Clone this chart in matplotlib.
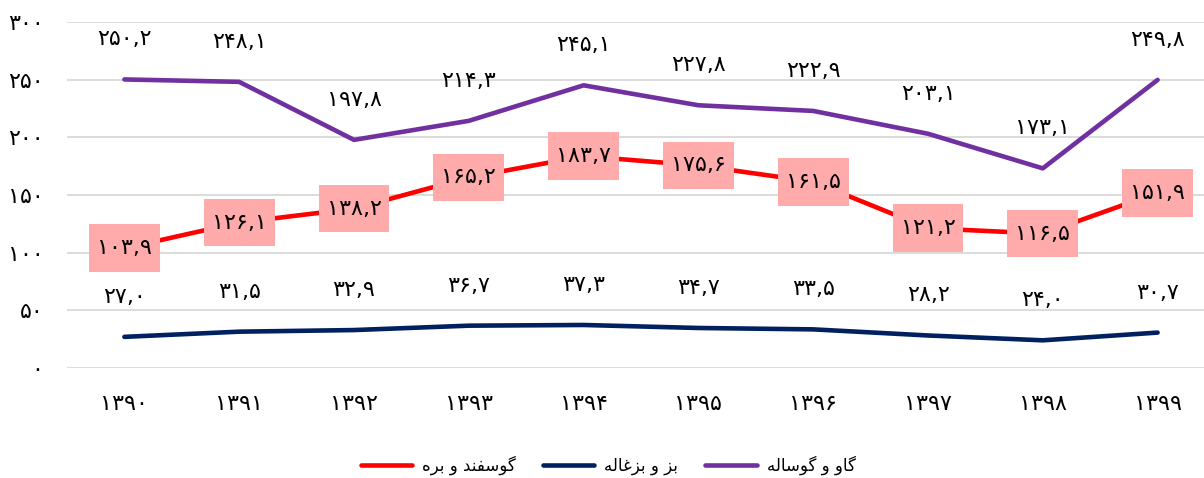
#Livestock slaughter weights 1390-1399 (three series, Persian labels)

import matplotlib
matplotlib.use('Agg')
import matplotlib.pyplot as plt
from matplotlib.path import Path
import numpy as np

years = [1390, 1391, 1392, 1393, 1394, 1395, 1396, 1397, 1398, 1399]
sheep = [103.9, 126.1, 138.2, 165.2, 183.7, 175.6, 161.5, 121.2, 116.5, 151.9]
goat = [27.0, 31.5, 32.9, 36.7, 37.3, 34.7, 33.5, 28.2, 24.0, 30.7]
cattle = [250.2, 248.1, 197.8, 214.3, 245.1, 227.8, 222.9, 203.1, 173.1, 249.8]
yticks = [0, 50, 100, 150, 200, 250, 300]

# series names, already shaped (presentation forms) and reversed for LTR drawing
name_sheep = '\uFB94\uFEEE\uFEB3\uFED4\uFEE8\uFEAA \uFEED \uFE91\uFEAE\uFEE9'[::-1]
name_goat = '\uFE91\uFEB0 \uFEED \uFE91\uFEB0\uFECF\uFE8E\uFEDF\uFEEA'[::-1]
name_cattle = '\uFB94\uFE8E\uFEED \uFEED \uFB94\uFEEE\uFEB3\uFE8E\uFEDF\uFEEA'[::-1]

FA = str.maketrans('0123456789.', '۰۱۲۳۴۵۶۷۸۹,')
def fa(x):
    return str(x).translate(FA)

#box with more room above/below than at the sides
def label_box(x0, y0, width, height, mutation_size):
    px = 0.36 * mutation_size
    py = 0.62 * mutation_size
    x1, y1 = x0 + width + px, y0 + height + py
    x0, y0 = x0 - px, y0 - py
    return Path([(x0, y0), (x1, y0), (x1, y1), (x0, y1), (x0, y0)], closed=True)

plt.rcParams['font.family'] = ['DejaVu Sans']

fig = plt.figure(figsize=(12.04, 4.78), dpi=100)
ax = fig.add_axes([67/1204, 1 - 368/478, 1148/1204, 346/478])

x = np.arange(len(years))
ax.plot(x, sheep, color='#FF0000', lw=3.3, label=name_sheep, solid_capstyle='round', zorder=3)
ax.plot(x, goat, color='#002060', lw=3.3, label=name_goat, solid_capstyle='round', zorder=3)
ax.plot(x, cattle, color='#7030A0', lw=3.3, label=name_cattle, solid_capstyle='round', zorder=3)

for i in range(len(x)):
    ax.annotate(fa('%.1f' % cattle[i]), (x[i], cattle[i]), xytext=(0, 40),
                textcoords='offset pixels', ha='center', va='center', fontsize=16)
    ax.annotate(fa('%.1f' % goat[i]), (x[i], goat[i]), xytext=(0, 40),
                textcoords='offset pixels', ha='center', va='center', fontsize=16)
    ax.text(x[i], sheep[i], fa('%.1f' % sheep[i]), ha='center', va='center', fontsize=16,
            zorder=4, bbox=dict(boxstyle=label_box, fc='#FFABAB', ec='none'))

ax.set_xlim(-0.5, 9.5)
ax.set_ylim(0, 300)
ax.set_yticks(yticks)
ax.set_yticklabels([fa(v) for v in yticks])
ax.set_xticks(x)
ax.set_xticklabels([fa(y) for y in years])
ax.tick_params(axis='both', length=0, labelsize=16)
ax.tick_params(axis='y', pad=17)
ax.tick_params(axis='x', pad=19)
ax.grid(axis='y', color='#D9D9D9', lw=1.3)
ax.set_axisbelow(True)
for s in ax.spines.values():
    s.set_visible(False)

fig.legend(loc='center', bbox_to_anchor=(0.505, 1 - 465/478), ncol=3, frameon=False,
           fontsize=12, handlelength=3.1, columnspacing=1.6, handletextpad=0.6)

fig.savefig('out.png', dpi=100)
